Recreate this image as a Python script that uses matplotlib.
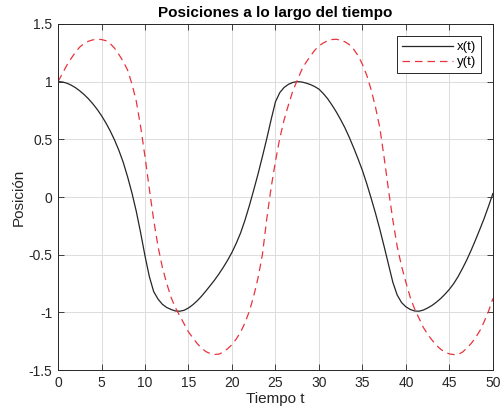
import matplotlib.pyplot as plt

# valores (t = 0..50, paso 0.5)
t = [i * 0.5 for i in range(101)]
x_vals = [1.00, 0.997, 0.987, 0.97, 0.948, 0.92, 0.888, 0.851, 0.808, 0.76,
          0.705, 0.643, 0.573, 0.494, 0.404, 0.30, 0.175, 0.035, -0.125, -0.31,
          -0.51, -0.69, -0.82, -0.885, -0.93, -0.958, -0.975, -0.988, -0.99, -0.982,
          -0.962, -0.934, -0.9, -0.86, -0.815, -0.768, -0.72, -0.667, -0.61, -0.548,
          -0.48, -0.40, -0.31, -0.20, -0.075, 0.06, 0.20, 0.35, 0.505, 0.67,
          0.825, 0.905, 0.95, 0.977, 0.993, 1.00, 0.997, 0.988, 0.975, 0.958,
          0.935, 0.897, 0.852, 0.797, 0.737, 0.67, 0.598, 0.515, 0.425, 0.33,
          0.23, 0.115, -0.01, -0.14, -0.28, -0.43, -0.585, -0.74, -0.85, -0.915,
          -0.952, -0.975, -0.988, -0.99, -0.98, -0.962, -0.94, -0.912, -0.88, -0.842,
          -0.80, -0.75, -0.69, -0.62, -0.545, -0.462, -0.373, -0.28, -0.185, -0.08,
          0.03]
y_vals = [1.00, 1.07, 1.14, 1.20, 1.255, 1.30, 1.33, 1.35, 1.362, 1.367,
          1.365, 1.355, 1.33, 1.29, 1.235, 1.175, 1.10, 0.98, 0.83, 0.61,
          0.35, 0.07, -0.20, -0.43, -0.61, -0.75, -0.87, -0.96, -1.03, -1.10,
          -1.17, -1.22, -1.27, -1.31, -1.34, -1.357, -1.365, -1.362, -1.345, -1.315,
          -1.28, -1.23, -1.17, -1.09, -0.99, -0.86, -0.70, -0.50, -0.19, 0.08,
          0.31, 0.51, 0.67, 0.80, 0.92, 1.01, 1.10, 1.165, 1.22, 1.27,
          1.31, 1.335, 1.355, 1.365, 1.367, 1.36, 1.345, 1.32, 1.28, 1.225,
          1.15, 1.055, 0.93, 0.78, 0.60, 0.34, 0.06, -0.20, -0.43, -0.60,
          -0.74, -0.87, -0.97, -1.05, -1.13, -1.19, -1.24, -1.285, -1.32, -1.345,
          -1.36, -1.366, -1.365, -1.345, -1.31, -1.27, -1.22, -1.16, -1.08, -0.99,
          -0.88]

xticks = list(range(0, 51, 5))
yticks = [-1.5, -1, -0.5, 0, 0.5, 1, 1.5]
ytick_labels = ['-1.5', '-1', '-0.5', '0', '0.5', '1', '1.5']

plt.rcParams['font.family'] = ['Liberation Sans', 'DejaVu Sans']

fig = plt.figure(figsize=(5.01, 4.13), dpi=100)
ax = fig.add_axes([0.1158, 0.104, 0.868, 0.838])

ax.plot(t, x_vals, color='#262626', linewidth=0.9, label='x(t)')
ax.plot(t, y_vals, color='#e8343c', linewidth=0.9, linestyle=(0, (6, 4)), label='y(t)')

ax.set_xlim(0, 50)
ax.set_ylim(-1.5, 1.5)
ax.set_xticks(xticks)
ax.set_yticks(yticks)
ax.set_yticklabels(ytick_labels)
ax.grid(True, color='#dcdcdc', linewidth=0.7)
ax.set_axisbelow(True)
ax.tick_params(direction='in', top=True, right=True, labelsize=10,
               colors='#262626', length=4, width=0.6, pad=4)
for s in ax.spines.values():
    s.set_color('#262626')
    s.set_linewidth(0.7)

ax.set_title('Posiciones a lo largo del tiempo', fontsize=11, fontweight='bold', pad=5)
ax.set_xlabel('Tiempo t', fontsize=11, color='#262626', labelpad=2)
ax.set_ylabel('Posición', fontsize=11, color='#262626', labelpad=2)

leg = ax.legend(loc='upper right', fontsize=9.5, fancybox=False, framealpha=1,
                edgecolor='#262626', handlelength=3.8, borderaxespad=0.9,
                handletextpad=0.3, labelspacing=0.2, borderpad=0.4)
leg.get_frame().set_linewidth(0.7)

fig.savefig('out.png', dpi=100)
